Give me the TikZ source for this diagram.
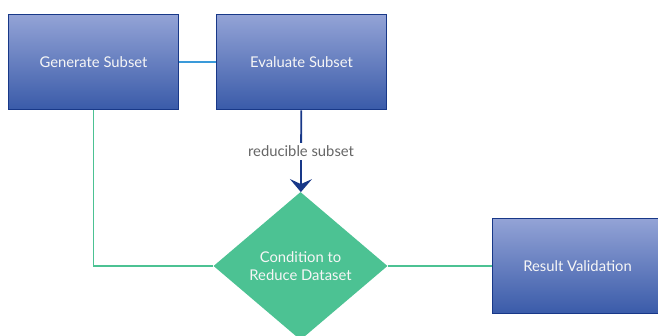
\documentclass[tikz,border=0pt]{standalone}
\usepackage{fontspec}
\setmainfont{Lato}
\usetikzlibrary{positioning,arrows.meta}
\usetikzlibrary{shapes.geometric}
\definecolor{boxtop}{HTML}{93A3D6}
\definecolor{boxbot}{HTML}{3A5BA9}
\definecolor{boxline}{HTML}{183888}
\definecolor{decgreen}{HTML}{4CC293}
\definecolor{linkblue}{HTML}{3A9AD9}
\tikzset{
    x=1pt, y=1pt,
    node distance=208pt, % distance between the two top boxes
    every node/.style={font=\fontsize{14.8}{18}\selectfont},
    stepbox/.style={draw=boxline, line width=1.9pt, top color=boxtop, bottom color=boxbot,
        minimum width=170pt, minimum height=95pt, text=white!93!gray},
    decision/.style={diamond, fill=decgreen, minimum width=174pt, minimum height=148pt,
        inner sep=0pt, align=center, text=white!93!gray},
    greenlink/.style={draw=decgreen, line width=1.3pt},
}

\begin{document}
\begin{tikzpicture}[on grid]
      \useasboundingbox (0,0) rectangle (658,336);
      \node (q_gen) [stepbox] at (93.5,274)  {Generate Subset};
      \node (q_eval) [stepbox, right of=q_gen] {Evaluate Subset};
      \node (q_cond) [decision] at (300.5,70) {Condition to\\Reduce Dataset};
      \node (q_valid) [stepbox] at (577.5,70) {Result Validation};
      \path
      (q_gen)  edge [draw=linkblue, line width=1.5pt] (q_eval)
      (q_eval) edge [draw=boxline, line width=1.8pt, -{Stealth[length=13pt,width=22pt,inset=5pt]}]
                node [fill=white, text=black!60, inner sep=3pt] {reducible subset} (q_cond)
      (q_cond) edge [greenlink] (q_valid)
      ;
      \draw [greenlink] (q_gen.south) |- (q_cond.west);
    \end{tikzpicture}
\end{document}
